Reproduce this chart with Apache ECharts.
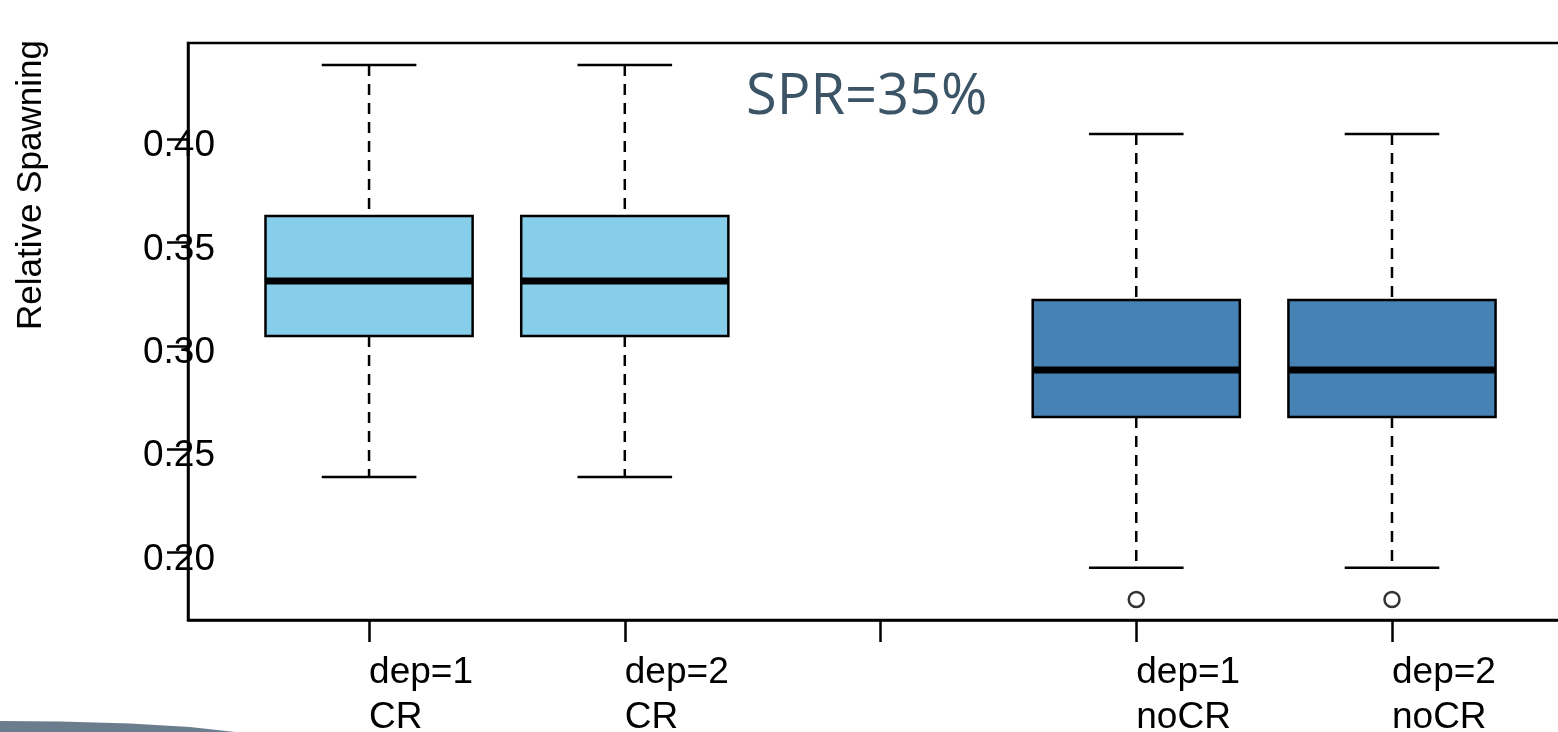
<!DOCTYPE html>
<html>
<head>
<meta charset="utf-8">
<script src="https://cdn.jsdelivr.net/npm/echarts@6/dist/echarts.min.js"></script>
<style>html,body{margin:0;padding:0;background:#fff;}#c{width:1558px;height:732px;}</style>
</head>
<body>
<div id="c"></div>
<script>
// ---- data ----
var positions = [1, 2, 4, 5];
var labels = ['dep=1\nCR', 'dep=2\nCR', 'dep=1\nnoCR', 'dep=2\nnoCR'];
var lowerWhisker = [0.2366, 0.2366, 0.1927, 0.1927];
var q1 = [0.3047, 0.3047, 0.2656, 0.2656];
var median = [0.3313, 0.3313, 0.2883, 0.2883];
var q3 = [0.3628, 0.3628, 0.3221, 0.3221];
var upperWhisker = [0.4358, 0.4358, 0.4024, 0.4024];
var boxColors = ['#87CEEB', '#87CEEB', '#4682B4', '#4682B4'];
var outlierX = [4, 5];
var outlierY = [0.1773, 0.1773];
var yTicks = [0.20, 0.25, 0.30, 0.35, 0.40];
var xTicks = [1, 2, 3, 4, 5];

var boxData = positions.map(function (p, i) {
  return [p, lowerWhisker[i], q1[i], median[i], q3[i], upperWhisker[i], i];
});
var outData = outlierX.map(function (x, i) { return [x, outlierY[i]]; });

var chart = echarts.init(document.getElementById('c'));
var FONT = '"Liberation Sans", Arial, sans-serif';

function renderBox(params, api) {
  var x = api.value(0);
  var idx = api.value(6);
  var halfW = api.size([0.405, 0])[0];
  var capW = api.size([0.185, 0])[0];
  var c = api.coord([x, 0]);
  var cx = c[0];
  var yLo = api.coord([x, api.value(1)])[1];
  var yQ1 = api.coord([x, api.value(2)])[1];
  var yMed = api.coord([x, api.value(3)])[1];
  var yQ3 = api.coord([x, api.value(4)])[1];
  var yHi = api.coord([x, api.value(5)])[1];
  var dash = { stroke: '#000', lineWidth: 2.5, lineDash: [11, 8] };
  var solid = { stroke: '#000', lineWidth: 2.5 };
  return {
    type: 'group',
    children: [
      { type: 'line', shape: { x1: cx, y1: yHi, x2: cx, y2: yQ3 }, style: dash },
      { type: 'line', shape: { x1: cx, y1: yQ1, x2: cx, y2: yLo }, style: dash },
      { type: 'line', shape: { x1: cx - capW, y1: yHi, x2: cx + capW, y2: yHi }, style: solid },
      { type: 'line', shape: { x1: cx - capW, y1: yLo, x2: cx + capW, y2: yLo }, style: solid },
      { type: 'rect', shape: { x: cx - halfW, y: yQ3, width: 2 * halfW, height: yQ1 - yQ3 },
        style: { fill: boxColors[idx], stroke: '#000', lineWidth: 2.5 } },
      { type: 'line', shape: { x1: cx - halfW, y1: yMed, x2: cx + halfW, y2: yMed },
        style: { stroke: '#000', lineWidth: 7 } }
    ]
  };
}

chart.setOption({
  animation: false,
  backgroundColor: '#fff',
  grid: {
    left: 188, right: -13, top: 43, bottom: 112,
    outerBoundsMode: 'none', containLabel: false,
    show: true, borderColor: '#000', borderWidth: 2.5, backgroundColor: 'transparent'
  },
  xAxis: {
    type: 'value', min: 0.292, max: 5.70,
    splitLine: { show: false },
    axisLine: { show: true, onZero: false, lineStyle: { color: '#000', width: 2.5 } },
    axisTick: { show: true, customValues: xTicks, length: 22, lineStyle: { color: '#000', width: 2.5 } },
    axisLabel: {
      show: true, customValues: positions, align: 'left', margin: 30,
      fontFamily: FONT, fontSize: 37, lineHeight: 45, color: '#000',
      formatter: function (v) {
        var i = positions.indexOf(Math.round(v));
        return i >= 0 ? labels[i] : '';
      }
    }
  },
  yAxis: {
    type: 'value', min: 0.1674, max: 0.4464,
    splitLine: { show: false },
    axisLine: { show: true, lineStyle: { color: '#000', width: 2.5 } },
    axisTick: { show: true, customValues: yTicks, length: 21, lineStyle: { color: '#000', width: 2.5 } },
    axisLabel: {
      show: true, customValues: yTicks, margin: -27, verticalAlign: 'top', lineHeight: 14,
      fontFamily: FONT, fontSize: 37, color: '#000',
      formatter: function (v) { return v.toFixed(2); }
    }
  },
  series: [
    {
      type: 'custom',
      renderItem: renderBox,
      data: boxData,
      encode: { x: 0, y: [1, 2, 3, 4, 5] },
      z: 2
    },
    {
      type: 'scatter',
      data: outData,
      symbol: 'circle',
      symbolSize: 15,
      itemStyle: { color: '#fff', borderColor: '#000', borderWidth: 2.5 },
      z: 3
    }
  ],
  graphic: [
    {
      type: 'text', x: 31, y: 185, rotation: Math.PI / 2,
      style: { text: 'Relative Spawning', fontFamily: FONT, fontSize: 35, fill: '#000',
        align: 'center', verticalAlign: 'middle' }
    },
    {
      type: 'text', x: 746, y: 98,
      style: { text: 'SPR=35%', fontFamily: '"Open Sans", sans-serif', fontSize: 56, fill: '#3b5466',
        align: 'left', verticalAlign: 'middle' }
    },
    {
      type: 'polygon',
      shape: { points: [[0, 721], [60, 721.5], [130, 723.5], [190, 727], [235, 732], [0, 732]] },
      style: { fill: '#6b7d8c' }
    }
  ]
});
</script>
</body>
</html>
